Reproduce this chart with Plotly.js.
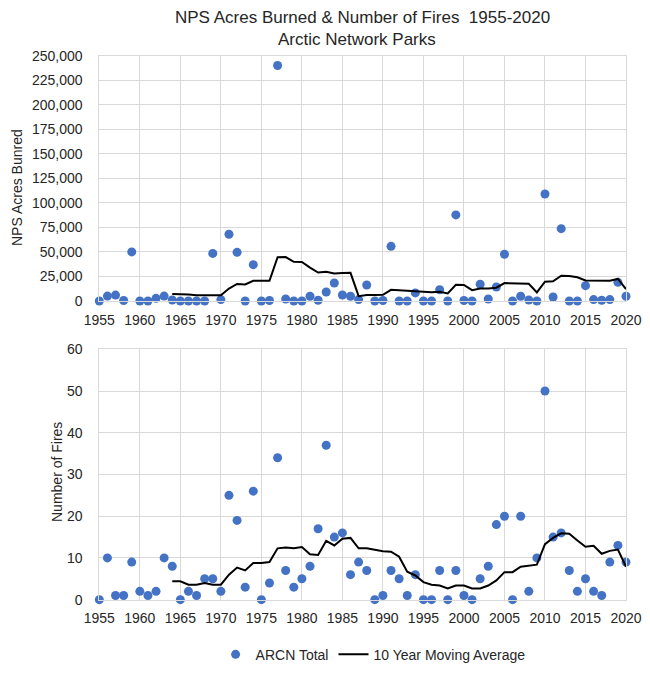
<!DOCTYPE html>
<html>
<head>
<meta charset="utf-8">
<script src="https://cdn.plot.ly/plotly-3.0.1.min.js"></script>
<style>html,body{margin:0;padding:0;background:#fff;}#chart{width:650px;height:675px;}</style>
</head>
<body>
<div id="chart"></div>
<script>
// Years 1955-2020
const years = [1955,1956,1957,1958,1959,1960,1961,1962,1963,1964,
  1965,1966,1967,1968,1969,1970,1971,1972,1973,1974,
  1975,1976,1977,1978,1979,1980,1981,1982,1983,1984,
  1985,1986,1987,1988,1989,1990,1991,1992,1993,1994,
  1995,1996,1997,1998,1999,2000,2001,2002,2003,2004,
  2005,2006,2007,2008,2009,2010,2011,2012,2013,2014,
  2015,2016,2017,2018,2019,2020];

// NPS acres burned (ARCN total)
const acresBurned = [0,5000,6000,500,50000,0,0,2700,5000,1000,
  0,0,0,0,48500,1400,68000,49600,0,37000,
  0,500,240000,2000,0,0,4800,700,9200,18300,
  6100,4800,1400,16300,0,500,55700,0,0,8200,
  0,0,11500,0,87700,500,0,17000,2000,14300,
  47600,0,4800,1000,0,109000,4100,73700,0,0,
  15600,1400,700,1400,19000,4800];

// 10 year moving average of acres (starts 1964)
const acresMovingAvg = [null,null,null,null,null,null,null,null,null,7000,
  7000,6500,5900,5900,5700,5900,12700,17400,16900,20500,
  20500,20600,44600,44700,39900,39700,34000,29000,29800,28000,
  28400,28700,4900,6200,6200,6300,11400,11300,10500,10000,
  9500,9000,9300,7700,16500,16400,11000,12600,12700,13500,
  18200,18100,17500,17500,8800,19600,20100,25700,25500,24200,
  21000,21000,20700,20700,22500,12200];

// Number of fires (ARCN total)
const numFires = [0,10,1,1,9,2,1,2,10,8,
  0,2,1,5,5,2,25,19,3,26,
  0,4,34,7,3,5,8,17,37,15,
  16,6,9,7,0,1,7,5,1,6,
  0,0,7,0,7,1,0,5,8,18,
  20,0,20,2,10,50,15,16,7,2,
  5,2,1,9,13,9];

// 10 year moving average of fires (starts 1964)
const firesMovingAvg = [null,null,null,null,null,null,null,null,null,4.4,
  4.4,3.6,3.6,4.0,3.6,3.6,6.0,7.7,7.0,8.8,
  8.8,9.0,12.3,12.5,12.3,12.6,10.9,10.7,14.1,13.0,
  14.6,14.8,12.3,12.3,12.0,11.6,11.5,10.3,6.7,5.8,
  4.2,3.6,3.4,2.7,3.4,3.4,2.7,2.7,3.4,4.6,
  6.6,6.6,7.9,8.1,8.4,13.3,14.8,15.9,15.8,14.2,
  12.7,12.9,11.0,11.7,12.0,7.9];

const seriesNames = ['ARCN Total', '10 Year Moving Average'];
const titleLines = ['NPS Acres Burned &amp; Number of Fires  1955-2020', 'Arctic Network Parks'];
const axisTitles = ['NPS Acres Bunred', 'Number of Fires'];

const dotColor = '#4472C4';
const gridColor = '#d9d9d9';
const textColor = '#262626';
const fontFam = 'Liberation Sans, Arial, sans-serif';

const traces = [
  {x: years, y: acresBurned, type: 'scatter', mode: 'markers', name: seriesNames[0],
   xaxis: 'x', yaxis: 'y', legendgroup: 'a', cliponaxis: false,
   marker: {color: dotColor, size: 9}},
  {x: years, y: numFires, type: 'scatter', mode: 'markers', name: seriesNames[0],
   xaxis: 'x2', yaxis: 'y2', legendgroup: 'a', showlegend: false, cliponaxis: false,
   marker: {color: dotColor, size: 9}},
  {x: years, y: acresMovingAvg, type: 'scatter', mode: 'lines', name: seriesNames[1],
   xaxis: 'x', yaxis: 'y', legendgroup: 'b', cliponaxis: false,
   line: {color: '#000000', width: 2}},
  {x: years, y: firesMovingAvg, type: 'scatter', mode: 'lines', name: seriesNames[1],
   xaxis: 'x2', yaxis: 'y2', legendgroup: 'b', showlegend: false, cliponaxis: false,
   line: {color: '#000000', width: 2}}
];

const xCommon = {
  range: [1955, 2020], tick0: 1955, dtick: 5, showgrid: true, gridcolor: gridColor, gridwidth: 1,
  showline: true, linecolor: gridColor, mirror: true, zeroline: false, ticks: '',
  ticklabelstandoff: 6, tickfont: {size: 14, color: textColor, family: fontFam}, fixedrange: true
};
const yCommon = {
  showgrid: true, gridcolor: gridColor, gridwidth: 1, showline: true, linecolor: gridColor,
  mirror: true, zeroline: false, ticks: '', ticklabelstandoff: 13,
  tickfont: {size: 14, color: textColor, family: fontFam}, fixedrange: true
};

const layout = {
  width: 650, height: 675,
  margin: {l: 0, r: 0, t: 0, b: 0},
  paper_bgcolor: '#ffffff', plot_bgcolor: '#ffffff',
  font: {family: fontFam, color: textColor},
  xaxis: Object.assign({}, xCommon, {domain: [0.1528, 0.9631], anchor: 'y'}),
  yaxis: Object.assign({}, yCommon, {domain: [0.5541, 0.9175], anchor: 'x', range: [0, 250000], dtick: 25000, tickformat: ','}),
  xaxis2: Object.assign({}, xCommon, {domain: [0.1528, 0.9631], anchor: 'y2'}),
  yaxis2: Object.assign({}, yCommon, {domain: [0.1116, 0.4825], anchor: 'x2', range: [0, 60], dtick: 10}),
  showlegend: true,
  legend: {orientation: 'h', x: 0.574, xanchor: 'center', y: 0.03, yanchor: 'middle',
    font: {size: 14, color: textColor, family: fontFam}, bgcolor: 'rgba(0,0,0,0)'},
  annotations: [
    {text: titleLines[0], xref: 'paper', yref: 'paper', x: 362/650, y: 1 - 18/675,
     xanchor: 'center', yanchor: 'middle', showarrow: false,
     font: {size: 17, color: textColor, family: fontFam}},
    {text: titleLines[1], xref: 'paper', yref: 'paper', x: 357/650, y: 1 - 40/675,
     xanchor: 'center', yanchor: 'middle', showarrow: false,
     font: {size: 17, color: textColor, family: fontFam}},
    {text: axisTitles[0], textangle: -90, xref: 'paper', yref: 'paper',
     x: 17/650, y: 1 - 188/675, xanchor: 'center', yanchor: 'middle', showarrow: false,
     font: {size: 14, color: textColor, family: fontFam}},
    {text: axisTitles[1], textangle: -90, xref: 'paper', yref: 'paper',
     x: 57/650, y: 1 - 472/675, xanchor: 'center', yanchor: 'middle', showarrow: false,
     font: {size: 14, color: textColor, family: fontFam}}
  ]
};

Plotly.newPlot('chart', traces, layout, {displayModeBar: false, staticPlot: true});
</script>
</body>
</html>
